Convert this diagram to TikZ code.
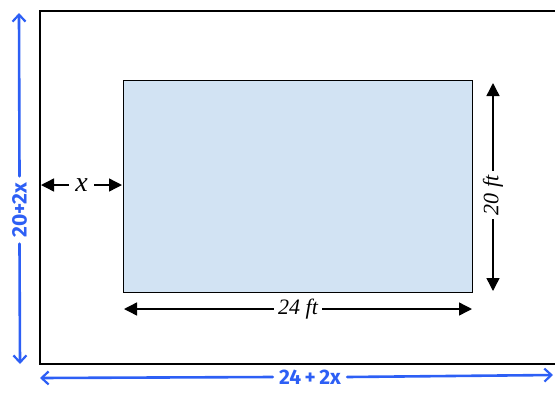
\documentclass[tikz,border=0pt]{standalone}
\usepackage{fontspec}
\setmainfont{Liberation Serif}
\newfontfamily\handfont{Fira Sans}
\usetikzlibrary{arrows.meta}
\definecolor{pen}{RGB}{45,95,245}
\definecolor{pool}{RGB}{210,227,243}
\tikzset{
  dim/.style={line width=1.4pt,{Triangle[length=13pt,width=13pt]}-{Triangle[length=13pt,width=13pt]}},
  dimlabel/.style={fill=white,inner sep=4pt,font=\fontsize{22}{24}\selectfont\itshape},
  bluetip/.style={draw=pen,line width=2.6pt,line cap=round,-{Straight Barb[length=7pt,width=13pt,line width=2.2pt]}},
  bluelabel/.style={text=pen,inner sep=6pt,font=\handfont\bfseries\fontsize{21}{23}\selectfont}
}
\begin{document}
\begin{tikzpicture}[x=1pt,y=-1pt]
\useasboundingbox (0,0) rectangle (555,392);
% outer boundary (cut at the right)
\draw[line width=1.5pt] (556,11) -- (40,11) -- (40,364) -- (556,364);
% pool
\node[draw=black,line width=1.2pt,fill=pool,minimum width=349pt,minimum height=212pt,anchor=north west,inner sep=0pt] (pool) at (123,80) {};
% x dimension
\coordinate (xl) at (41,185);
\coordinate (xr) at (122,185);
\draw[dim] (xl) -- (xr) node[dimlabel,midway,inner sep=6pt,font=\fontsize{28}{30}\selectfont\itshape] (xlab) {x};
% 24 ft
\coordinate (bl) at (124,309);
\coordinate (br) at (472,309);
\draw[dim] (bl) -- (br) node[dimlabel,midway] (blab) {24 ft};
% 20 ft
\coordinate (rt) at (493,83);
\coordinate (rb) at (493,291);
\draw[dim] (rt) -- (rb) node[dimlabel,pos=0.54,rotate=90] (rlab) {20 ft};
% blue handwritten dimensions
\coordinate (vt) at (19,13);
\coordinate (vb) at (20,364);
\node[bluelabel,rotate=90] (vlab) at (19.5,210) {20+2x};
\draw[bluetip] (vlab.east) -- (vt);
\draw[bluetip] (vlab.west) -- (vb);
\coordinate (hl) at (40,378);
\coordinate (hr) at (553,375);
\node[bluelabel] (hlab) at (310,377) {24\,+\,2x};
\draw[bluetip] (hlab.west) -- (hl);
\draw[bluetip] (hlab.east) -- (hr);
\end{tikzpicture}
\end{document}
